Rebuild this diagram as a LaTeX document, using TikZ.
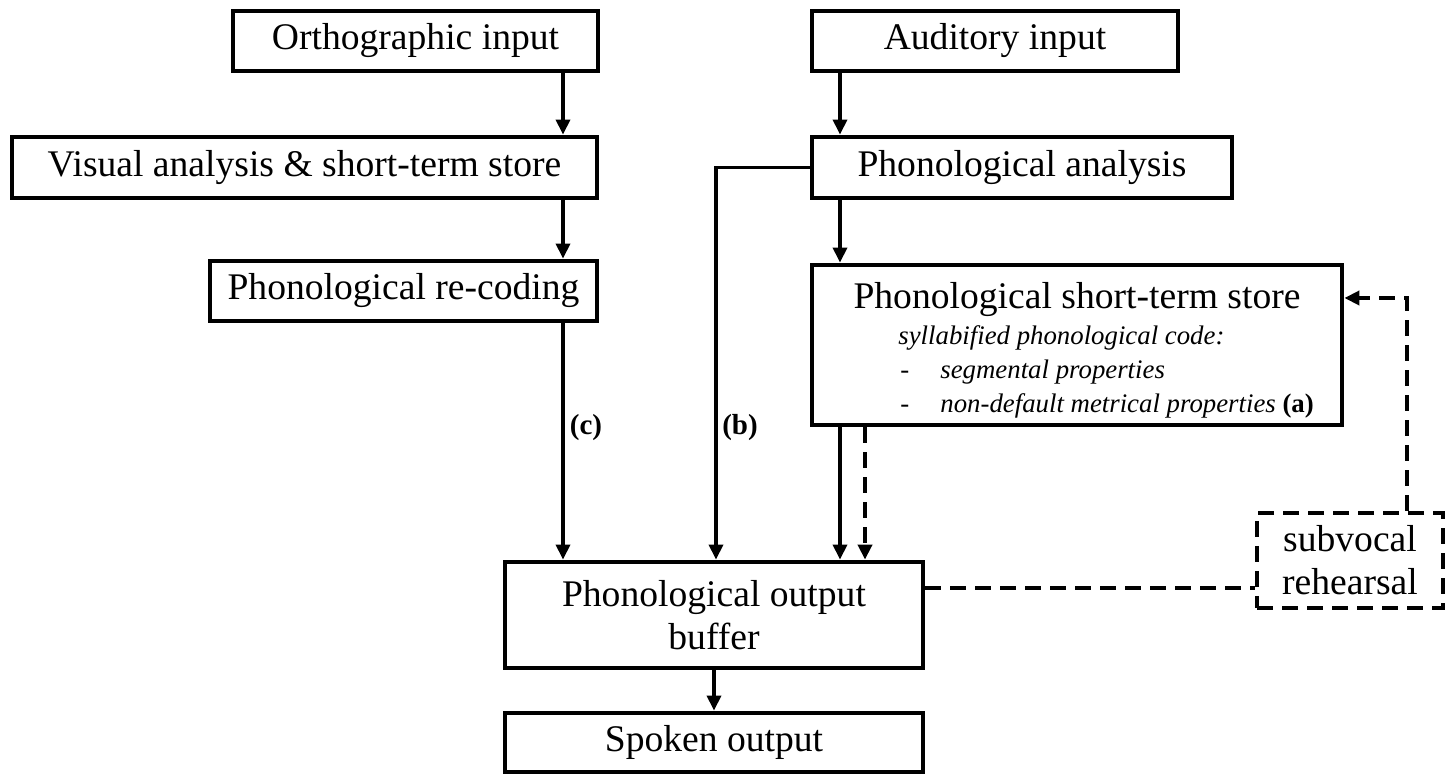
\documentclass[tikz,border=0pt]{standalone}
\usepackage{fontspec}
\setmainfont{Liberation Serif}
\usetikzlibrary{arrows.meta,positioning}

\begin{document}
\begin{tikzpicture}[
  x=0.5pt, y=-0.5pt,
  font=\fontsize{18.8}{21.5}\selectfont,
  box/.style={rectangle, draw=black, line width=2.4pt, inner sep=0pt, align=center},
  rehearse/.style={box, line width=2.2pt, dash pattern=on 8pt off 4.5pt},
  note/.style={inner sep=0pt, font=\fontsize{14.5}{17}\selectfont\bfseries},
  arr/.style={-{Triangle[length=7.5pt,width=7pt]}, line width=1.7pt},
  darr/.style={arr, line width=2.2pt, dash pattern=on 8pt off 4.5pt},
  dline/.style={line width=2.2pt, dash pattern=on 8pt off 4.5pt}
]
\useasboundingbox (0,0) rectangle (1453,774);
\node[box, minimum width=182.5pt, minimum height=30pt] (orth) at (415.5,41) {Orthographic input};
\node[box, minimum width=183pt, minimum height=30pt] (aud) at (995,41) {Auditory input};
\node[box, minimum width=292.5pt, minimum height=30.5pt] (vis) at (304.5,167.5) {Visual analysis \& short-term store};
\node[box, minimum width=210pt, minimum height=30.5pt] (phan) at (1022,167.5) {Phonological analysis};
\node[box, minimum width=193.5pt, minimum height=30pt] (rec) at (403.5,291) {Phonological re-coding};
\node[box, minimum width=265pt, minimum height=80pt] (sts) at (1077,345) {};
\node (ststitle) at (1077,300) {Phonological short-term store};
\node[anchor=north west, inner sep=0pt, align=left, font=\fontsize{13.4}{17}\selectfont\itshape] (stscode) at (898,325)
  {syllabified phonological code:\\
   \makebox[21pt][l]{\hspace{1pt}\upshape-}segmental properties\\
   \makebox[21pt][l]{\hspace{1pt}\upshape-}non-default metrical properties \textbf{\upshape (a)}};
\node[box, minimum width=209pt, minimum height=53pt] (buf) at (714,615) {Phonological output\\ buffer};
\node[box, minimum width=209pt, minimum height=29.5pt] (spk) at (714,742.5) {Spoken output};
\node[rehearse, minimum width=93pt, minimum height=47.5pt] (sub) at (1350,560.5) {subvocal\\ rehearsal};
\node[note] (lc) at (586,428) {(c)};
\node[note] (lb) at (740,428) {(b)};
% routing columns
\coordinate (cx) at (563,0);
\coordinate (ax) at (840,0);
\coordinate (bx) at (716,0);
\coordinate (dx) at (865,0);
\coordinate (rx) at (1407,298);
\coordinate (hy) at (0,588);
\draw[arr] (orth.south -| cx) -- (vis.north -| cx);
\draw[arr] (vis.south -| cx) -- (rec.north -| cx);
\draw[arr] (rec.south -| cx) -- (buf.north -| cx);
\draw[arr] (aud.south -| ax) -- (phan.north -| ax);
\draw[arr] (phan.south -| ax) -- (sts.north -| ax);
\draw[arr] (sts.south -| ax) -- (buf.north -| ax);
\draw[darr] (sts.south -| dx) -- (buf.north -| dx);
\draw[arr] (phan.west) -| (buf.north -| bx);
\draw[arr] (buf) -- (spk);
\draw[dline] (buf.east |- hy) -- (sub.west |- hy);
\draw[darr] (sub.north -| rx) |- (sts.east |- rx);
\end{tikzpicture}
\end{document}
